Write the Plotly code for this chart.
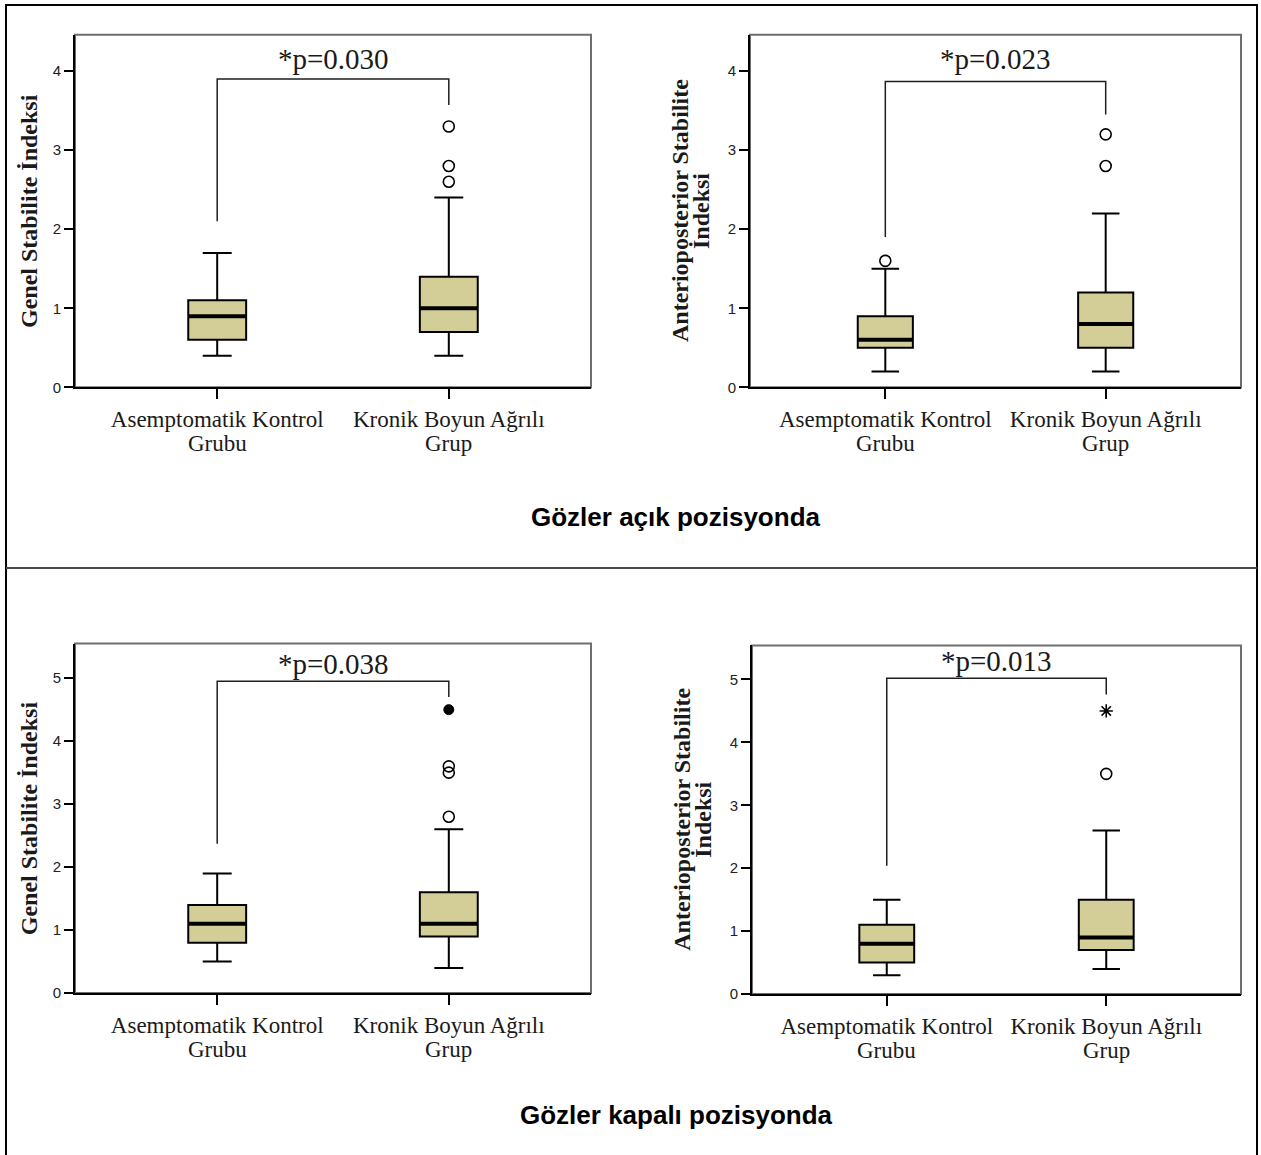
import plotly.graph_objects as go

W, H = 1261, 1155

# ---------------- data ----------------
categories_line1 = ["Asemptomatik Kontrol", "Kronik Boyun Ağrılı"]
categories_line2 = ["Grubu", "Grup"]
cat_pos = [0, 1]

# Panel 1: Genel Stabilite İndeksi, gözler açık
p1_low = [0.4, 0.4]
p1_q1 = [0.6, 0.7]
p1_med = [0.9, 1.0]
p1_q3 = [1.1, 1.4]
p1_high = [1.7, 2.4]
p1_out_open = [[], [3.3, 2.8, 2.6]]
p1_out_filled = [[], []]
p1_out_star = [[], []]

# Panel 2: Anterioposterior Stabilite İndeksi, gözler açık
p2_low = [0.2, 0.2]
p2_q1 = [0.5, 0.5]
p2_med = [0.6, 0.8]
p2_q3 = [0.9, 1.2]
p2_high = [1.5, 2.2]
p2_out_open = [[1.6], [3.2, 2.8]]
p2_out_filled = [[], []]
p2_out_star = [[], []]

# Panel 3: Genel Stabilite İndeksi, gözler kapalı
p3_low = [0.5, 0.4]
p3_q1 = [0.8, 0.9]
p3_med = [1.1, 1.1]
p3_q3 = [1.4, 1.6]
p3_high = [1.9, 2.6]
p3_out_open = [[], [3.6, 3.5, 2.8]]
p3_out_filled = [[], [4.5]]
p3_out_star = [[], []]

# Panel 4: Anterioposterior Stabilite İndeksi, gözler kapalı
p4_low = [0.3, 0.4]
p4_q1 = [0.5, 0.7]
p4_med = [0.8, 0.9]
p4_q3 = [1.1, 1.5]
p4_high = [1.5, 2.6]
p4_out_open = [[], [3.5]]
p4_out_filled = [[], []]
p4_out_star = [[], [4.5]]

p_labels = ["*p=0.030", "*p=0.023", "*p=0.038", "*p=0.013"]
y_titles = [["Genel Stabilite İndeksi"],
            ["Anterioposterior Stabilite", "İndeksi"],
            ["Genel Stabilite İndeksi"],
            ["Anterioposterior Stabilite", "İndeksi"]]
y_tickvals = [[0, 1, 2, 3, 4], [0, 1, 2, 3, 4], [0, 1, 2, 3, 4, 5], [0, 1, 2, 3, 4, 5]]
section_titles = ["Gözler açık pozisyonda", "Gözler kapalı pozisyonda"]

# bracket geometry (annotation layout, in axis units)
bracket_top = [3.9, 3.87, 4.95, 5.02]
bracket_left_end = [2.1, 1.9, 2.37, 2.04]
bracket_right_end = [3.57, 3.45, 4.70, 4.76]
plabel_y = [3.93, 3.92, 4.94, 5.0]

# ---------------- layout constants ----------------
panel_px = [  # x0, x1, y_top, y_bottom in pixels
    (75, 591, 35, 390),
    (750, 1241, 35, 390),
    (75, 591, 648, 1000),
    (752, 1241, 650, 1001),
]
y_ranges = [[0, 4.46], [0, 4.46], [0, 5.55], [0, 5.54]]
x_range = [-0.614, 1.614]
BOX_W = 0.25
BOX_FILL = "#D3CE97"
SERIF = "Liberation Serif, Times New Roman, serif"
SANS = "Liberation Sans, Arial, sans-serif"
TXT = "#1a1a1a"

panels = [
    (p1_low, p1_q1, p1_med, p1_q3, p1_high, p1_out_open, p1_out_filled, p1_out_star),
    (p2_low, p2_q1, p2_med, p2_q3, p2_high, p2_out_open, p2_out_filled, p2_out_star),
    (p3_low, p3_q1, p3_med, p3_q3, p3_high, p3_out_open, p3_out_filled, p3_out_star),
    (p4_low, p4_q1, p4_med, p4_q3, p4_high, p4_out_open, p4_out_filled, p4_out_star),
]

fig = go.Figure()
shapes = []
annotations = []

for i, (lo, q1, med, q3, hi, oo, of, os_) in enumerate(panels):
    k = "" if i == 0 else str(i + 1)
    xa, ya = "x" + k, "y" + k
    x0, x1, yt, yb = panel_px[i]

    fig.add_trace(go.Box(
        x=cat_pos, q1=q1, median=med, q3=q3, lowerfence=lo, upperfence=hi,
        width=BOX_W, whiskerwidth=0.5, fillcolor=BOX_FILL,
        line=dict(color="black", width=2), boxpoints=False,
        xaxis=xa, yaxis=ya, showlegend=False, hoverinfo="skip"))

    # thick median lines
    mx, my = [], []
    for c, m in zip(cat_pos, med):
        mx += [c - BOX_W / 2, c + BOX_W / 2, None]
        my += [m, m, None]
    fig.add_trace(go.Scatter(x=mx, y=my, mode="lines", line=dict(color="black", width=4),
                             xaxis=xa, yaxis=ya, showlegend=False, hoverinfo="skip"))

    # outliers
    for pts, sym, size, lw in ((oo, "circle-open", 11, 1.6), (of, "circle", 10, 1), (os_, "asterisk-open", 11, 1.6)):
        ox, oy = [], []
        for c, vals in zip(cat_pos, pts):
            ox += [c] * len(vals)
            oy += vals
        if ox:
            fig.add_trace(go.Scatter(x=ox, y=oy, mode="markers",
                                     marker=dict(symbol=sym, size=size, color="black",
                                                 line=dict(color="black", width=lw)),
                                     xaxis=xa, yaxis=ya, showlegend=False, hoverinfo="skip"))

    # significance bracket
    fig.add_trace(go.Scatter(
        x=[cat_pos[0], cat_pos[0], cat_pos[1], cat_pos[1]],
        y=[bracket_left_end[i], bracket_top[i], bracket_top[i], bracket_right_end[i]],
        mode="lines", line=dict(color="#1e1e1e", width=1.5),
        xaxis=xa, yaxis=ya, showlegend=False, hoverinfo="skip"))
    annotations.append(dict(x=0.5, y=plabel_y[i], xref=xa, yref=ya, text=p_labels[i],
                            showarrow=False, yanchor="bottom", xanchor="center",
                            font=dict(family=SERIF, size=29, color=TXT)))

    dom_x = [x0 / W, x1 / W]
    dom_y = [1 - yb / H, 1 - yt / H]
    fig.update_layout(**{
        ("xaxis" + k): dict(domain=dom_x, range=x_range, tickvals=cat_pos, ticktext=categories_line1,
                            showline=True, linecolor="black", linewidth=2, ticks="outside",
                            ticklen=10, tickwidth=2, tickcolor="black", showgrid=False,
                            zeroline=False, tickfont=dict(family=SERIF, size=23, color=TXT),
                            anchor=ya, fixedrange=True),
        ("yaxis" + k): dict(domain=dom_y, range=y_ranges[i], tickvals=y_tickvals[i],
                            showline=True, linecolor="black", linewidth=2, ticks="outside",
                            ticklen=9, tickwidth=1.5, tickcolor="black", showgrid=False,
                            zeroline=False, tickfont=dict(family=SANS, size=15, color="#222"),
                            anchor=xa, fixedrange=True),
    })

    # second line of the category labels
    for c, t in zip(cat_pos, categories_line2):
        annotations.append(dict(x=c, y=1 - (yb + 57) / H, xref=xa, yref="paper", text=t,
                                showarrow=False, xanchor="center", yanchor="middle",
                                font=dict(family=SERIF, size=23, color=TXT)))

    # grey frame
    shapes.append(dict(type="rect", xref=xa + " domain", yref=ya + " domain",
                       x0=0, x1=1, y0=0, y1=1, line=dict(color="#6e6e6e", width=2), layer="below"))

    # y-axis titles
    lines = y_titles[i]
    if len(lines) == 1:
        xs = [x0 - 46]
    else:
        xs = [x0 - 70, x0 - 49]
    for t, xp in zip(lines, xs):
        annotations.append(dict(x=xp / W, y=1 - (yt + yb) / 2 / H, xref="paper", yref="paper",
                                text="<b>" + t + "</b>", textangle=-90, showarrow=False,
                                xanchor="center", yanchor="middle",
                                font=dict(family=SERIF, size=24, color=TXT)))

# section titles
for t, yp in zip(section_titles, [521, 1123]):
    annotations.append(dict(x=676 / W, y=1 - yp / H, xref="paper", yref="paper",
                            text="<b>" + t + "</b>", showarrow=False, xanchor="center",
                            yanchor="middle",
                            font=dict(family="Liberation Sans Narrow, Arial Narrow, Liberation Sans, Arial",
                                      size=26, color="black")))

# outer border and divider
shapes.append(dict(type="rect", xref="paper", yref="paper", x0=6 / W, x1=1257 / W,
                   y0=1 - 1165 / H, y1=1 - 5 / H, line=dict(color="black", width=2)))
shapes.append(dict(type="line", xref="paper", yref="paper", x0=6 / W, x1=1257 / W,
                   y0=1 - 572 / H, y1=1 - 572 / H, line=dict(color="#4a4a4a", width=2)))

fig.update_layout(width=W, height=H, margin=dict(l=0, r=0, t=0, b=0),
                  paper_bgcolor="white", plot_bgcolor="rgba(0,0,0,0)",
                  shapes=shapes, annotations=annotations, showlegend=False)

fig.write_html("out.html", config={"displayModeBar": False},
               post_script="document.body.style.margin='0';document.body.style.overflow='hidden';")
